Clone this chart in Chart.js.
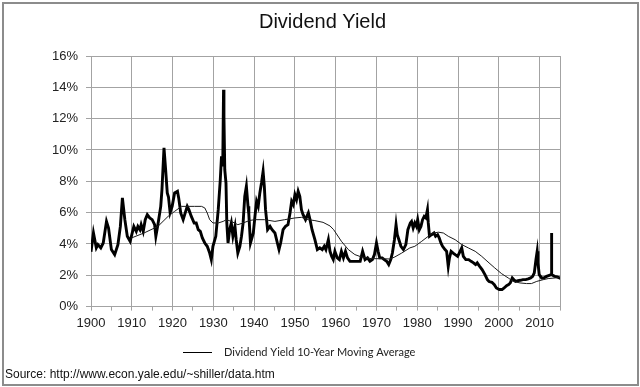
<!DOCTYPE html>
<html>
<head>
<meta charset="utf-8">
<script src="https://cdn.jsdelivr.net/npm/chart.js@4/dist/chart.umd.min.js"></script>
<style>
  html, body { margin: 0; padding: 0; background: #fff; }
  #wrap { position: relative; width: 640px; height: 387px; }
  #frame { position: absolute; left: 2px; top: 2px; width: 633px; height: 380px;
           border: 2px solid #8c8c8c; pointer-events: none; }
</style>
</head>
<body>
<div id="wrap">
  <canvas id="chart" width="640" height="387"></canvas>
  <div id="frame"></div>
</div>
<script>
// dividend yield (year, percent)
const yieldYears = [
  1900.0, 1900.6, 1901.3, 1901.7, 1902.4, 1903.0, 1903.8, 1904.3, 1905.0, 1905.8,
  1906.6, 1907.2, 1907.7, 1908.3, 1908.9, 1909.6, 1910.5, 1911.1, 1911.5, 1912.0,
  1912.3, 1912.8, 1913.3, 1913.8, 1914.4, 1915.0, 1915.6, 1915.9, 1916.4, 1917.1,
  1917.4, 1917.9, 1918.3, 1918.7, 1919.0, 1919.4, 1919.9, 1920.5, 1921.2, 1921.5,
  1922.0, 1922.6, 1923.1, 1923.6, 1924.0, 1924.6, 1925.3, 1925.8, 1926.3, 1926.8,
  1927.3, 1927.9, 1928.5, 1929.1, 1929.5, 1929.9, 1930.6, 1931.2, 1931.7, 1932.0,
  1932.3, 1932.5, 1932.6, 1932.8, 1933.1, 1933.3, 1933.6, 1934.0, 1934.4, 1934.8,
  1935.3, 1935.6, 1936.0, 1936.5, 1936.9, 1937.3, 1937.7, 1938.1, 1938.5, 1938.7,
  1939.1, 1939.8, 1940.2, 1940.6, 1941.0, 1941.4, 1941.8, 1942.2, 1942.5, 1942.8,
  1943.3, 1943.9, 1944.4, 1945.1, 1945.7, 1946.1, 1946.5, 1947.1, 1947.7, 1948.3,
  1948.8, 1949.2, 1949.6, 1950.0, 1950.4, 1950.8, 1951.2, 1951.6, 1952.0, 1952.6,
  1953.3, 1953.7, 1954.2, 1954.9, 1955.5, 1956.1, 1956.7, 1957.2, 1957.6, 1958.2,
  1958.6, 1959.0, 1959.4, 1959.8, 1960.4, 1960.9, 1961.4, 1961.9, 1962.4, 1962.9,
  1963.5, 1964.3, 1965.1, 1966.0, 1966.6, 1967.2, 1967.8, 1968.4, 1969.0, 1969.5,
  1970.0, 1970.4, 1970.8, 1971.4, 1971.9, 1972.5, 1973.0, 1973.5, 1973.9, 1974.4,
  1974.8, 1975.1, 1975.5, 1976.0, 1976.6, 1977.2, 1977.7, 1978.3, 1978.6, 1979.0,
  1979.4, 1979.8, 1980.1, 1980.5, 1980.9, 1981.3, 1981.7, 1982.1, 1982.5, 1982.7,
  1983.0, 1983.5, 1984.1, 1984.5, 1985.0, 1985.4, 1985.8, 1986.2, 1986.8, 1987.2,
  1987.6, 1987.9, 1988.3, 1988.8, 1989.3, 1989.9, 1990.5, 1990.9, 1991.3, 1991.9,
  1992.6, 1993.2, 1993.8, 1994.3, 1994.7, 1995.3, 1995.9, 1996.6, 1997.2, 1997.6,
  1998.3, 1998.9, 1999.4, 2000.1, 2000.8, 2001.3, 2001.9, 2002.4, 2002.8, 2003.3,
  2003.7, 2004.1, 2004.7, 2005.3, 2005.9, 2006.6, 2007.2, 2007.8, 2008.3, 2008.7,
  2009.1, 2009.4, 2009.6, 2009.9, 2010.5, 2011.0, 2011.7, 2012.2, 2012.8, 2012.9,
  2013.0, 2013.7, 2014.3, 2014.9, 2015.0
];
const yieldValues = [
  3.5, 4.7, 3.75, 3.96, 3.75, 4.06, 5.44, 5.02, 3.64, 3.32,
  3.96, 5.12, 6.94, 5.55, 4.49, 4.17, 5.12, 4.8, 5.12, 4.91,
  5.23, 4.8, 5.55, 5.87, 5.66, 5.55, 5.23, 4.49, 5.23, 6.4,
  7.47, 10.13, 8.74, 7.26, 7.0, 6.0, 6.4, 7.26, 7.36, 6.94,
  5.98, 5.55, 5.98, 6.4, 6.19, 5.76, 5.34, 5.34, 4.91, 4.8,
  4.38, 4.06, 3.85, 3.42, 3.0, 3.85, 4.49, 6.19, 8.1, 9.59,
  8.95, 13.85, 12.14, 8.74, 7.89, 5.34, 4.06, 4.91, 5.34, 4.49,
  5.12, 4.27, 3.42, 3.85, 4.49, 5.34, 7.04, 7.68, 6.4, 5.9,
  4.06, 4.7, 5.76, 6.72, 6.4, 7.26, 7.89, 8.63, 7.68, 6.19,
  4.91, 5.12, 4.91, 4.7, 4.06, 3.64, 4.06, 4.91, 5.12, 5.23,
  5.98, 6.72, 6.51, 7.15, 6.83, 7.36, 7.04, 6.19, 5.87, 5.55,
  5.98, 5.55, 4.91, 4.27, 3.64, 3.75, 3.64, 3.85, 3.64, 4.27,
  3.53, 3.21, 3.0, 3.53, 3.11, 3.0, 3.53, 3.11, 3.53, 3.11,
  2.89, 2.89, 2.89, 2.89, 3.53, 3.0, 3.11, 2.89, 3.0, 3.32,
  4.06, 3.53, 3.11, 3.11, 3.0, 2.89, 2.68, 3.0, 3.42, 4.27,
  5.23, 4.59, 4.27, 3.85, 3.64, 3.96, 4.91, 5.34, 5.44, 5.02,
  5.34, 5.12, 5.55, 4.91, 5.12, 5.55, 5.76, 5.66, 6.19, 5.34,
  4.49, 4.59, 4.7, 4.49, 4.59, 4.38, 4.06, 3.85, 3.64, 3.53,
  2.57, 3.11, 3.53, 3.42, 3.32, 3.21, 3.53, 3.75, 3.21, 3.0,
  3.0, 2.89, 2.79, 2.68, 2.79, 2.57, 2.36, 2.04, 1.72, 1.6,
  1.55, 1.4, 1.19, 1.09, 1.09, 1.19, 1.34, 1.4, 1.51, 1.83,
  1.72, 1.61, 1.66, 1.68, 1.72, 1.72, 1.77, 1.83, 1.93, 2.15,
  3.0, 3.53, 2.79, 2.04, 1.83, 1.83, 1.93, 1.98, 2.04, 4.7,
  2.04, 1.93, 1.9, 1.83, 1.9
];

// 10-year moving average
const avgYears = [
  1909.9, 1913.0, 1916.4, 1918.9, 1920.5, 1922.2, 1925.4, 1927.1, 1927.9, 1928.5,
  1929.1, 1929.9, 1931.2, 1932.4, 1933.2, 1934.4, 1936.0, 1937.3, 1938.9, 1940.2,
  1942.6, 1945.1, 1947.5, 1950.0, 1951.6, 1953.3, 1954.9, 1956.9, 1958.6, 1959.5,
  1961.4, 1963.1, 1964.7, 1966.3, 1968.8, 1971.2, 1973.3, 1974.5, 1976.2, 1978.2,
  1979.4, 1981.1, 1982.7, 1983.9, 1985.2, 1986.4, 1987.6, 1989.3, 1990.9, 1992.5,
  1994.2, 1995.8, 1997.6, 1999.0, 2000.7, 2002.3, 2003.5, 2005.2, 2006.8, 2008.0,
  2009.3, 2010.9, 2012.1, 2013.8, 2014.9
];
const avgValues = [
  4.38, 4.7, 5.12, 5.76, 6.08, 6.4, 6.4, 6.4, 6.3, 5.98,
  5.55, 5.34, 5.34, 5.44, 5.55, 5.44, 5.23, 5.34, 5.5, 5.55,
  5.55, 5.44, 5.55, 5.66, 5.7, 5.55, 5.49, 5.38, 5.15, 4.91,
  4.17, 3.64, 3.32, 3.17, 3.06, 3.06, 3.04, 3.17, 3.42, 3.75,
  3.85, 4.17, 4.49, 4.7, 4.75, 4.7, 4.49, 4.27, 3.96, 3.75,
  3.53, 3.21, 2.79, 2.47, 2.1, 1.83, 1.61, 1.51, 1.47, 1.47,
  1.61, 1.72, 1.79, 1.83, 1.85
];

const yTicks = [0, 2, 4, 6, 8, 10, 12, 14, 16];
const xMin = 1900, xMax = 2015;

const seriesLabel = 'Dividend Yield 10-Year Moving Average';
const sourceText = 'Source: http://www.econ.yale.edu/~shiller/data.htm';

const gridGray = '#a3a3a3';
const font = 'Liberation Sans, Arial, sans-serif';

function toPoints(xs, ys) {
  return xs.map(function(x, i) { return { x: x, y: ys[i] }; });
}

// legend is drawn by hand so it can sit where the original has it
const legendPlugin = {
  id: 'sideLegend',
  afterDraw: function(chart) {
    const ctx = chart.ctx;
    ctx.save();
    ctx.strokeStyle = '#000';
    ctx.lineWidth = 1;
    ctx.beginPath();
    ctx.moveTo(183, 352.5);
    ctx.lineTo(212, 352.5);
    ctx.stroke();
    ctx.fillStyle = '#222';
    ctx.font = '11px Lato, sans-serif';
    ctx.textBaseline = 'middle';
    ctx.fillText(chart.data.datasets[0].label, 224, 352);
    ctx.restore();
  }
};

new Chart(document.getElementById('chart'), {
  type: 'line',
  data: {
    datasets: [{
      label: seriesLabel,
      data: toPoints(avgYears, avgValues),
      borderColor: '#1a1a1a',
      borderWidth: 1,
      pointRadius: 0,
      tension: 0
    }, {
      label: 'Dividend Yield',
      data: toPoints(yieldYears, yieldValues),
      borderColor: '#000',
      borderWidth: 2.9,
      pointRadius: 0,
      tension: 0
    }]
  },
  options: {
    responsive: false,
    animation: false,
    events: [],
    layout: { padding: { left: 5, right: 0, top: 0, bottom: 0 } },
    plugins: {
      legend: { display: false },
      tooltip: { enabled: false },
      title: {
        display: true,
        text: 'Dividend Yield',
        color: '#111',
        font: { family: font, size: 20, weight: 'normal' },
        padding: { top: 10, bottom: 22 }
      },
      subtitle: {
        display: true,
        position: 'bottom',
        align: 'start',
        text: sourceText,
        color: '#111',
        font: { family: font, size: 12, weight: 'normal' },
        padding: { top: 0, bottom: 5 }
      }
    },
    scales: {
      x: {
        type: 'linear',
        min: xMin,
        max: xMax,
        ticks: {
          stepSize: 5,
          autoSkip: false,
          maxRotation: 0,
          padding: 5,
          color: '#222',
          font: { family: font, size: 13 },
          callback: function(v) { return v % 10 === 0 ? String(v) : ''; }
        },
        grid: {
          color: function(c) {
            const v = c.tick ? c.tick.value : 0;
            return (v % 10 === 0 || v === xMax) ? gridGray : 'rgba(0,0,0,0)';
          },
          tickColor: gridGray,
          tickLength: 4
        },
        border: { color: gridGray },
        afterFit: function(scale) { scale.height = 61; }
      },
      y: {
        min: 0,
        max: 16,
        afterBuildTicks: function(scale) {
          scale.ticks = yTicks.map(function(v) { return { value: v }; });
        },
        ticks: {
          padding: 8,
          color: '#222',
          font: { family: font, size: 13 },
          callback: function(v) { return v + '%'; }
        },
        grid: { color: gridGray, tickColor: gridGray, tickLength: 5 },
        border: { color: gridGray },
        afterFit: function(scale) { scale.width = 86; }
      },
      right: {
        position: 'right',
        display: true,
        ticks: { display: false },
        grid: { display: false, drawTicks: false },
        border: { display: false },
        afterFit: function(scale) { scale.width = 80; }
      }
    }
  },
  plugins: [legendPlugin]
});
</script>
</body>
</html>
